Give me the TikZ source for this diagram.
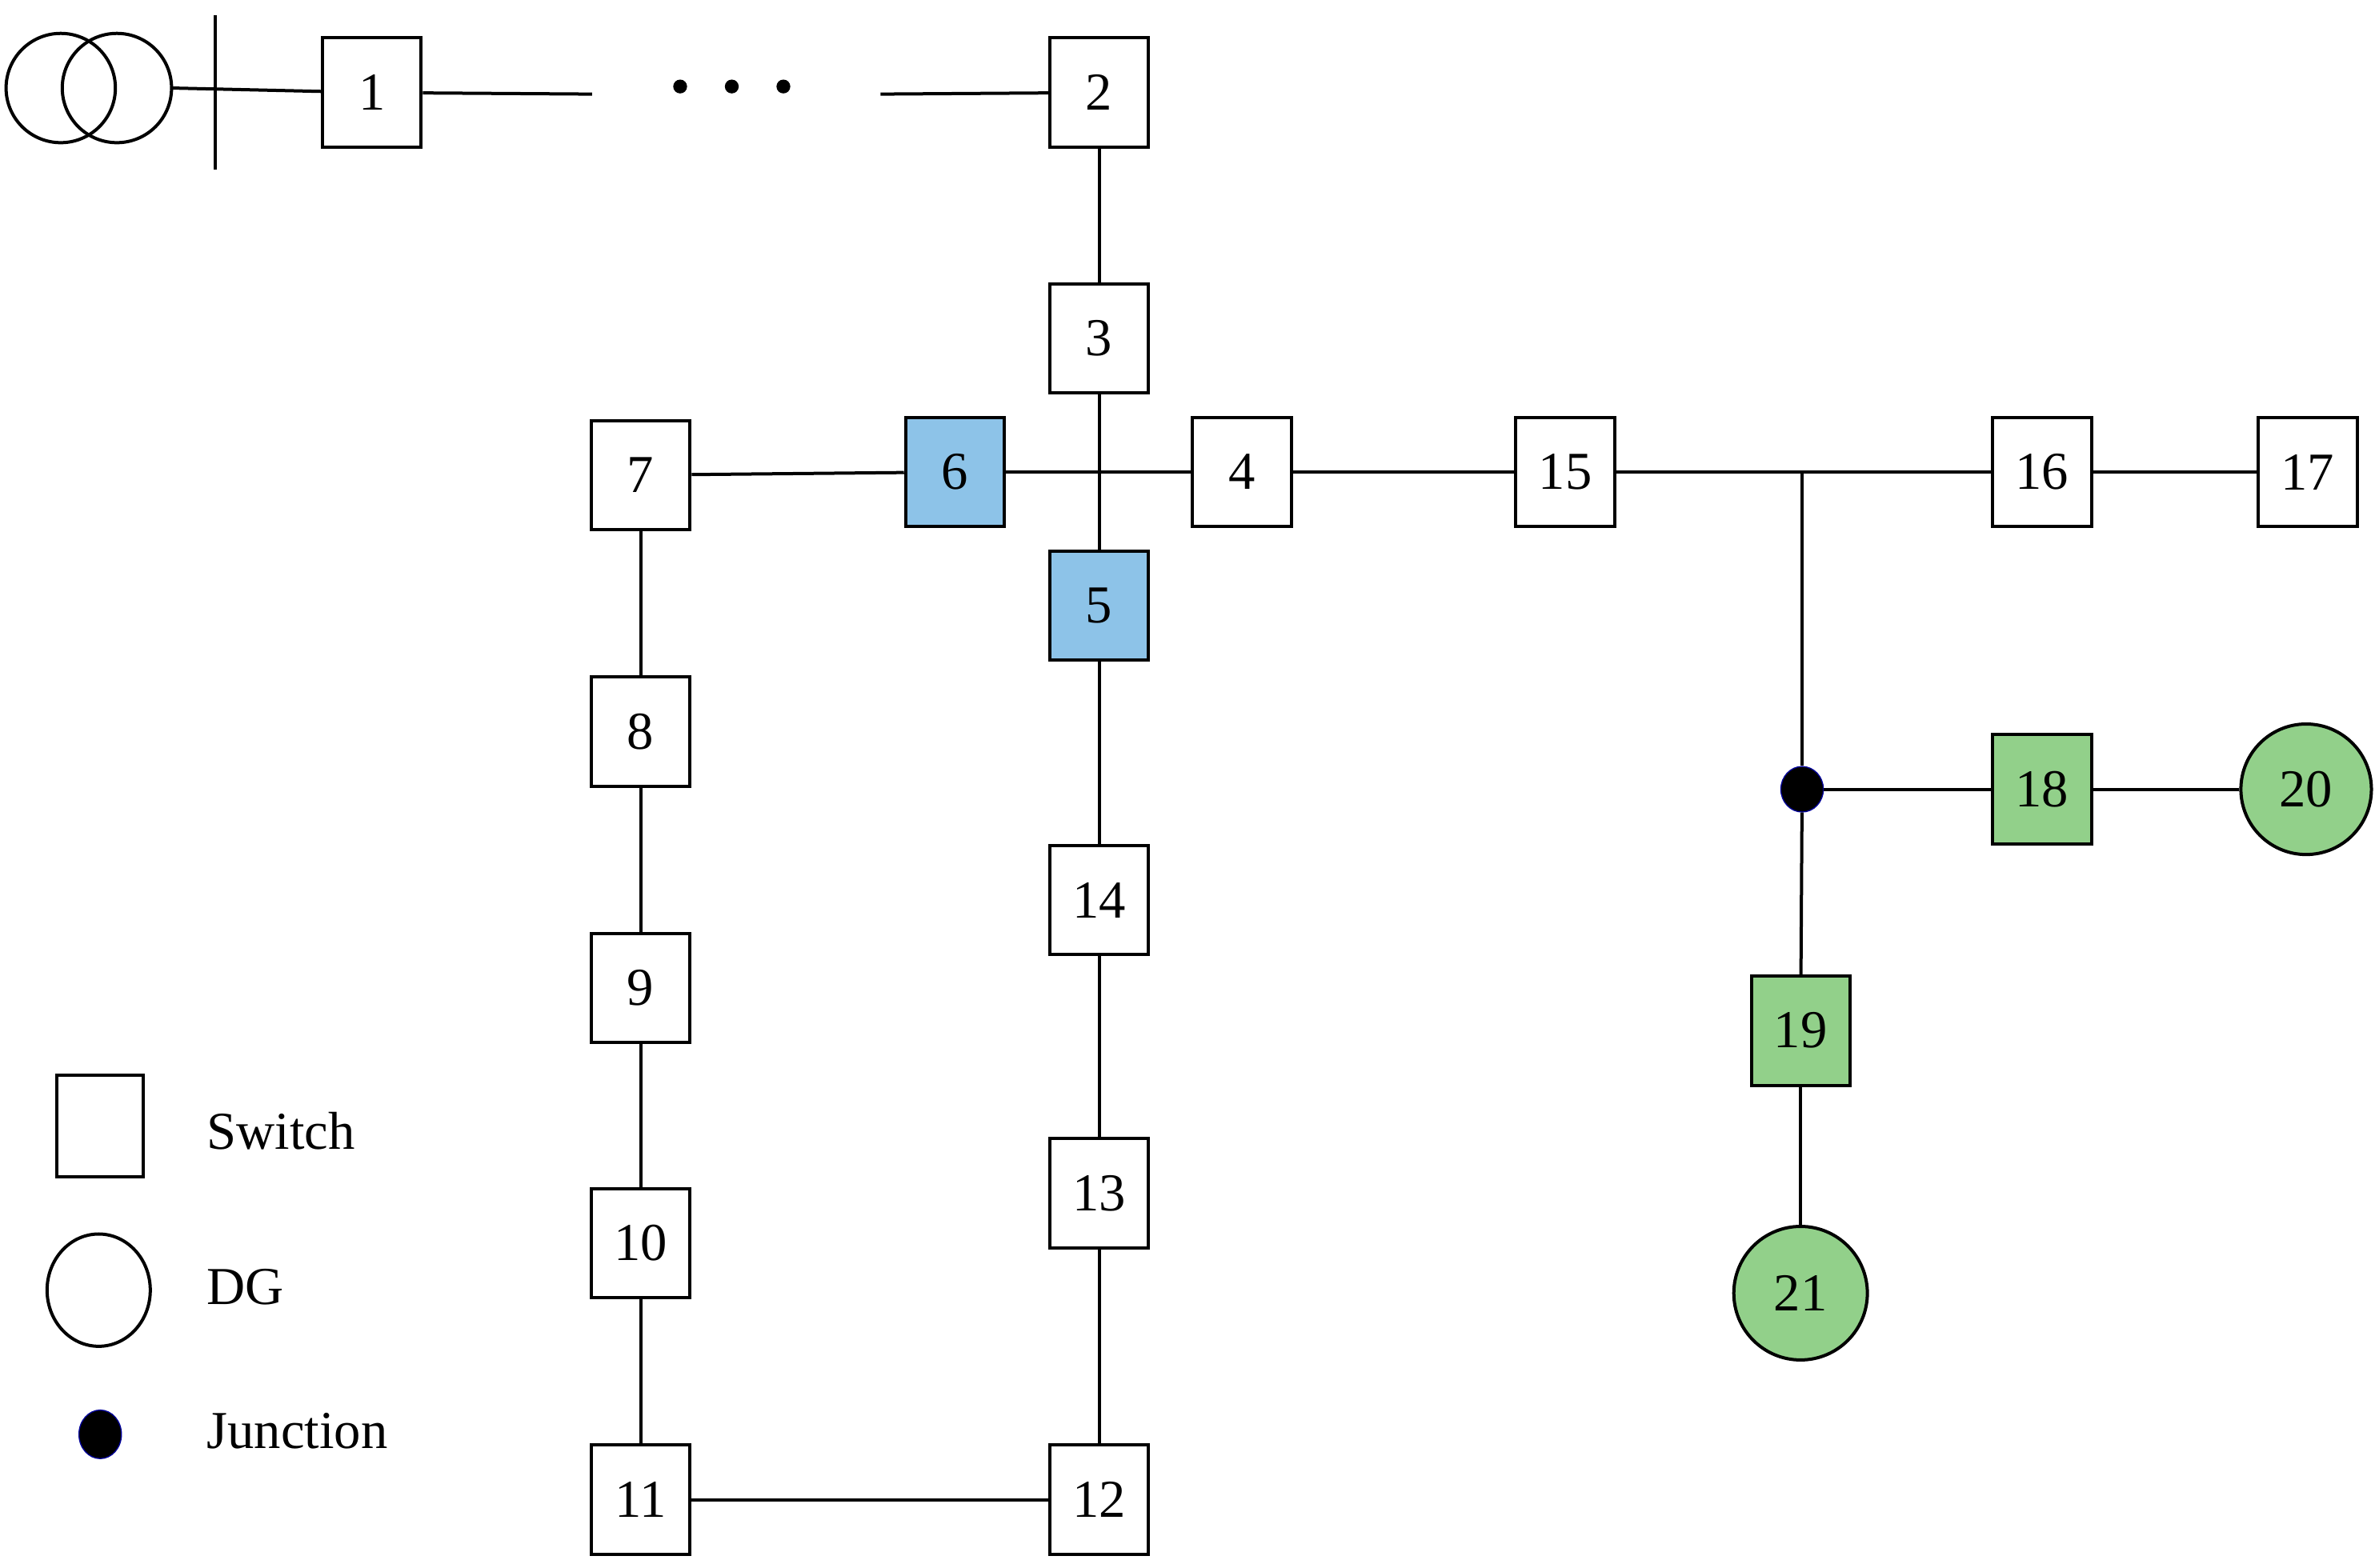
\documentclass[tikz,border=0pt]{standalone}
\usepackage{fontspec}
\setmainfont{Liberation Serif}
\usetikzlibrary{shapes.geometric}
\definecolor{swblue}{HTML}{8DC3E8}
\definecolor{dggreen}{HTML}{92D08A}
\tikzset{
  sw/.style={draw, line width=1.2pt, minimum width=1.3cm, minimum height=1.44cm, inner sep=0pt, font=\fontsize{20}{24}\selectfont},
  dg/.style={draw, circle, line width=1.2pt, minimum size=1.72cm, inner sep=0pt, fill=dggreen, font=\fontsize{20}{24}\selectfont},
  lbl/.style={anchor=west, font=\fontsize{20}{24}\selectfont},
  ln/.style={line width=1.2pt}
}
\begin{document}
\begin{tikzpicture}[x=0.02cm,y=-0.02cm]
    \useasboundingbox (0,0) rectangle (1567,1033);
    % transformer and bus
    \draw[ln] (40,58) circle (36*0.02cm);
    \draw[ln] (77,58) circle (36*0.02cm);
    \coordinate (bt) at (142,10);
    \coordinate (bb) at (142,112);
    \coordinate (bm) at (113,58);
    \draw[ln] (bt) -- (bb);

    % switches
    \node[sw] (1) at (245,61) {1};
    \node[sw] (2) at (724,61) {2};
    \node[sw] (3) at (724,223) {3};
    \node[sw] (4) at (818,311) {4};
    \node[sw, fill=swblue] (5) at (724,399) {5};
    \node[sw, fill=swblue] (6) at (629,311) {6};
    \node[sw] (7) at (422,313) {7};
    \node[sw] (8) at (422,482) {8};
    \node[sw] (9) at (422,651) {9};
    \node[sw] (10) at (422,819) {10};
    \node[sw] (11) at (422,988) {11};
    \node[sw] (12) at (724,988) {12};
    \node[sw] (13) at (724,786) {13};
    \node[sw] (14) at (724,593) {14};
    \node[sw] (15) at (1031,311) {15};
    \node[sw] (16) at (1345,311) {16};
    \node[sw] (17) at (1520,311) {17};
    \node[sw, fill=dggreen] (18) at (1345,520) {18};
    \node[sw, fill=dggreen] (19) at (1186,679) {19};
    \node[dg] (20) at (1519,520) {20};
    \node[dg, minimum size=1.76cm] (21) at (1186,852) {21};
    \node[draw=blue!60!black, fill=black, ellipse, minimum width=0.56cm, minimum height=0.6cm, inner sep=0pt] (j) at (1187,520) {};
    \coordinate (t) at (1187,312);

    % dots
    \coordinate (d1) at (390,62);
    \coordinate (d2) at (580,62);
    \foreach \x in {448,482,516}
        \fill (\x,57) circle (2.6pt);

    % lines
    \draw[ln] (bm) -- (1);
    \draw[ln] (1) -- (d1);
    \draw[ln] (d2) -- (2);
    \draw[ln] (2) -- (3);
    \draw[ln] (3) -- (5);
    \draw[ln] (7) -- (6);
    \draw[ln] (6) -- (4);
    \draw[ln] (4) -- (15);
    \draw[ln] (15) -- (16);
    \draw[ln] (16) -- (17);
    \draw[ln] (t) -- (j);
    \draw[ln] (j) -- (18);
    \draw[ln] (18) -- (20);
    \draw[ln] (j) -- (19);
    \draw[ln] (19) -- (21);
    \draw[ln] (5) -- (14);
    \draw[ln] (14) -- (13);
    \draw[ln] (13) -- (12);
    \draw[ln] (7) -- (8);
    \draw[ln] (8) -- (9);
    \draw[ln] (9) -- (10);
    \draw[ln] (10) -- (11);
    \draw[ln] (11) -- (12);

    % legend
    \node[draw, line width=1.2pt, minimum width=1.14cm, minimum height=1.34cm] (lsw) at (66,742) {};
    \node[draw, circle, line width=1.2pt, minimum width=1.36cm, minimum height=1.48cm, ellipse] (ldg) at (65,850) {};
    \node[draw=blue!60!black, fill=black, ellipse, minimum width=0.56cm, minimum height=0.64cm, inner sep=0pt] (ljn) at (66,945) {};
    \node[lbl] (tsw) at (130,745) {Switch};
    \node[lbl] (tdg) at (130,848) {DG};
    \node[lbl] (tjn) at (130,943) {Junction};
\end{tikzpicture}
\end{document}
